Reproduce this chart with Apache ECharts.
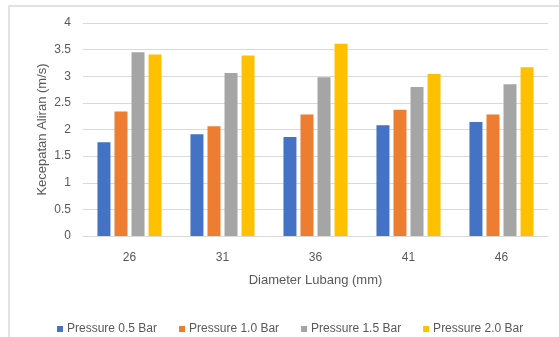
<!DOCTYPE html>
<html>
<head>
<meta charset="utf-8">
<script src="https://cdn.jsdelivr.net/npm/echarts@6/dist/echarts.min.js"></script>
<style>
  html, body { margin: 0; padding: 0; background: #fff; }
  #chart { width: 559px; height: 337px; }
</style>
</head>
<body>
<div id="chart"></div>
<script>
// Hole diameters (mm) on the category axis
const diameters = ['26', '31', '36', '41', '46'];

// Flow velocity (m/s) for each pressure setting
const pressure05 = [1.76, 1.91, 1.86, 2.08, 2.14];
const pressure10 = [2.34, 2.06, 2.28, 2.37, 2.28];
const pressure15 = [3.45, 3.06, 2.98, 2.80, 2.85];
const pressure20 = [3.41, 3.39, 3.61, 3.04, 3.17];

const seriesNames = ['Pressure 0.5 Bar', 'Pressure 1.0 Bar', 'Pressure 1.5 Bar', 'Pressure 2.0 Bar'];
const seriesColors = ['#4472C4', '#ED7D31', '#A5A5A5', '#FFC000'];
const seriesValues = [pressure05, pressure10, pressure15, pressure20];

const textColor = '#595959';
const fontFamily = '"Liberation Sans", Arial, sans-serif';

const chart = echarts.init(document.getElementById('chart'), null, { renderer: 'canvas' });

chart.setOption({
  animation: false,
  backgroundColor: '#ffffff',
  textStyle: { fontFamily: fontFamily, color: textColor },
  graphic: [
    {
      // chart-area frame, open to the right and bottom
      type: 'rect',
      shape: { x: 9, y: 6, width: 600, height: 400 },
      style: { fill: 'none', stroke: '#d9d9d9', lineWidth: 1.5 },
      silent: true
    }
  ],
  grid: { left: 83, right: 11, top: 23, bottom: 101, containLabel: false },
  legend: {
    data: seriesNames,
    left: 52,
    top: 318,
    itemWidth: 6,
    itemHeight: 6,
    itemGap: 22,
    icon: 'rect',
    textStyle: { fontSize: 12, color: textColor, fontFamily: fontFamily, padding: [0, 0, 0, -1] }
  },
  xAxis: {
    type: 'category',
    data: diameters,
    name: 'Diameter Lubang (mm)',
    nameLocation: 'middle',
    nameGap: 38,
    nameMoveOverlap: false,
    nameTextStyle: { fontSize: 13, color: textColor },
    axisLine: { show: true, lineStyle: { color: '#d9d9d9', width: 1 } },
    axisTick: { show: false },
    axisLabel: { fontSize: 12, color: textColor, margin: 16 }
  },
  yAxis: {
    type: 'value',
    min: 0,
    max: 4,
    interval: 0.5,
    name: 'Kecepatan Aliran (m/s)',
    nameLocation: 'middle',
    nameRotate: 90,
    nameGap: 34,
    nameMoveOverlap: false,
    nameTextStyle: { fontSize: 13, color: textColor },
    axisLine: { show: false },
    axisTick: { show: false },
    axisLabel: { fontSize: 12, color: textColor, margin: 12 },
    splitLine: { lineStyle: { color: '#d9d9d9', width: 1 } }
  },
  series: seriesValues.map((vals, i) => ({
    name: seriesNames[i],
    type: 'bar',
    data: vals,
    barWidth: 13,
    barGap: '31%',
    itemStyle: { color: seriesColors[i] }
  }))
});
</script>
</body>
</html>
